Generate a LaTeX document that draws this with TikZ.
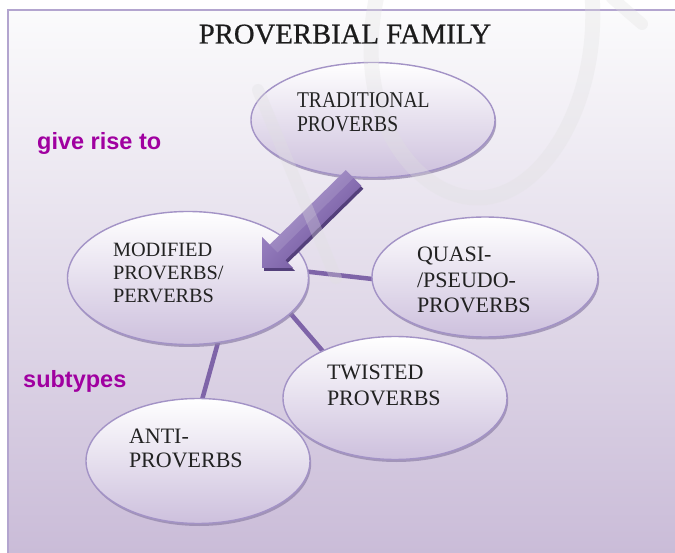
\documentclass[tikz,border=0pt]{standalone}
\usepackage{fontspec}
\setmainfont{Liberation Serif}
\newfontfamily\condserif[FakeStretch=0.87]{Liberation Serif}
\newfontfamily\titleserif[FakeBold=0.7]{Liberation Serif}
\newfontfamily\labelsans{Liberation Sans}
\usetikzlibrary{shapes.geometric,shadows}
\definecolor{bgtop}{HTML}{FBFBFC}
\definecolor{bgmid}{HTML}{EAE5EF}
\definecolor{bgbot}{HTML}{CABCD8}
\definecolor{framec}{HTML}{B3A5CF}
\definecolor{ellborder}{HTML}{A393C6}
\definecolor{ellbot}{HTML}{CDC0DD}
\definecolor{ellshadow}{HTML}{8E80A8}
\definecolor{conn}{HTML}{7E64A8}
\definecolor{labelc}{HTML}{A000A0}
\definecolor{txt}{HTML}{222222}
\definecolor{titlec}{HTML}{1C1C1C}
\definecolor{arrowlight}{HTML}{A892CE}
\definecolor{arrowdark}{HTML}{6C5199}
\definecolor{arrowside}{HTML}{54407B}
\definecolor{wmc}{HTML}{E0E0E0}
\pgfdeclarelayer{back}
\pgfdeclarelayer{links}
\pgfsetlayers{back,links,main}
\tikzset{
  bubble/.style={ellipse, draw=ellborder, line width=1.4pt, top color=white,
    bottom color=ellbot, outer sep=0pt, inner sep=0pt,
    drop shadow={shadow xshift=1.2pt, shadow yshift=-2.5pt, fill=ellshadow, opacity=0.7}},
  bubbletext/.style={anchor=base west, inner sep=0pt, outer sep=0pt, text=txt,
    align=left, text width=170pt},
  link/.style={draw=conn, line width=4.5pt},
  tag/.style={anchor=base west, inner sep=0pt, text=labelc,
    font=\labelsans\bfseries\fontsize{23.5}{28}\selectfont},
  wm/.style={draw=wmc, line width=15pt, opacity=0.3, line cap=round},
}
\begin{document}
\begin{tikzpicture}[x=1pt,y=-1pt]
\useasboundingbox (0,0) rectangle (675,553);
\begin{pgfonlayer}{back}
\fill[white] (0,0) rectangle (675,553);
\shade[top color=bgtop, middle color=bgmid, bottom color=bgbot] (8,10) rectangle (675,553);
\draw[framec, line width=2pt] (8,553) -- (8,10) -- (675,10);
\end{pgfonlayer}

% bubbles
\node[bubble, minimum width=244pt, minimum height=115pt] (trad) at (373,120) {};
\node[bubble, minimum width=241pt, minimum height=133pt] (mod) at (188,278) {};
\node[bubble, minimum width=226pt, minimum height=120pt] (quasi) at (485,277) {};
\node[bubble, minimum width=224pt, minimum height=123pt] (twist) at (395,398) {};
\node[bubble, minimum width=224pt, minimum height=125pt] (anti) at (198,461) {};

% connectors
\begin{pgfonlayer}{links}
\draw[link] (mod.3) -- (quasi.181.5);
\draw[link] (mod.-19) -- (twist.147.4);
\draw[link] (mod.-65.6) -- (anti.86.4);
\end{pgfonlayer}

% block arrow from traditional to modified
\fill[arrowside, shift={(2,3)}] (262,268) -- (262,237) -- (269.7,244.7) -- (345.7,170.2)
  -- (361.3,185.8) -- (285.3,260.3) -- (293,268) -- cycle;
\shade[top color=arrowlight, bottom color=arrowdark, shading angle=45]
  (262,268) -- (262,237) -- (269.7,244.7) -- (345.7,170.2)
  -- (361.3,185.8) -- (285.3,260.3) -- (293,268) -- cycle;
\fill[white, opacity=0.12] (269.7,244.7) -- (345.7,170.2) -- (353.5,178) -- (277.5,252.5) -- cycle;

% faint watermark strokes
\draw[wm] (377,-5) .. controls (350,120) and (420,200) .. (480,198)
  .. controls (545,195) and (600,100) .. (592,-5);
\draw[wm, line width=12pt] (258,90) -- (336,278);
\draw[wm, line width=12pt] (612,-2) -- (642,24);

% title and side labels
\node[anchor=base, inner sep=0pt, text=titlec, font=\titleserif\fontsize{28.7}{34}\selectfont] (title) at (345,43.5) {PROVERBIAL FAMILY};
\node[tag] (rise) at (37,150) {give rise to};
\node[tag] (sub) at (23,388) {subtypes};

% bubble texts
\node[bubbletext, font=\condserif\fontsize{22.5}{24}\selectfont] (tradt) at (297,108) {TRADITIONAL\\PROVERBS};
\node[bubbletext, font=\fontsize{20.3}{23}\selectfont] (modt) at (113,257) {MODIFIED\\PROVERBS/\\PERVERBS};
\node[bubbletext, font=\fontsize{22}{25.5}\selectfont] (quasit) at (417,262) {QUASI-\\/PSEUDO-\\PROVERBS};
\node[bubbletext, font=\fontsize{22}{25}\selectfont] (twistt) at (327,380) {TWISTED\\PROVERBS};
\node[bubbletext, font=\fontsize{22}{24}\selectfont] (antit) at (129,443) {ANTI-\\PROVERBS};
\end{tikzpicture}
\end{document}
